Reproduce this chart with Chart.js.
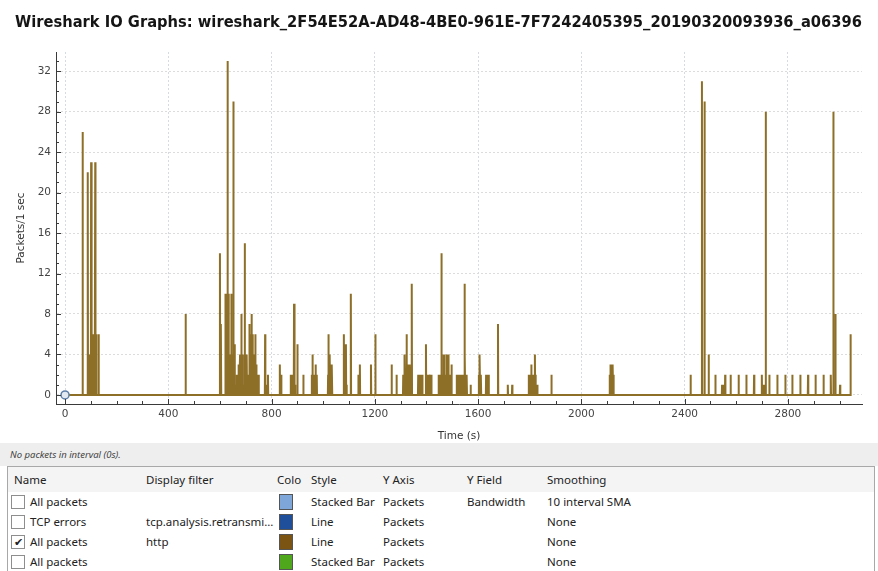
<!DOCTYPE html>
<html>
<head>
<meta charset="utf-8">
<title>Wireshark IO Graphs</title>
<script src="https://cdn.jsdelivr.net/npm/chart.js@4.4.0/dist/chart.umd.min.js"></script>
<style>
body { margin: 0; width: 878px; height: 571px; overflow: hidden; background: #fff; position: relative; font-family: "Noto Sans", sans-serif; }
#plot { position: absolute; left: 0; top: 0; }
#status { position: absolute; left: 0; top: 443px; width: 878px; height: 23px; background: #eeeeee; color: #444; font: italic 9.5px "Noto Sans", sans-serif; line-height: 23px; padding-left: 10px; box-sizing: border-box; }
#graphs { position: absolute; left: 7px; top: 466px; width: 868px; height: 120px; border: 1px solid #a8a8a8; box-sizing: border-box; background: #fff; overflow: hidden; }
.row { position: relative; height: 20px; font-size: 11.5px; color: #222; }
.row.head { height: 25px; background: #f4f4f4; }
.cell { position: absolute; top: 0; white-space: nowrap; line-height: 20px; }
.head .cell { line-height: 25px; }
.chk { position: absolute; left: 3px; top: 3px; width: 12px; height: 12px; border: 1px solid #8e8e8e; background: #fff; font-size: 11px; line-height: 12px; text-align: center; color: #222; }
.sw { position: absolute; left: 271px; top: 2px; width: 12px; height: 14px; border: 1px solid #555; }
</style>
</head>
<body>
<canvas id="plot" width="878" height="443"></canvas>
<div id="status">No packets in interval (0s).</div>
<div id="graphs"></div>
<script>
// Spikes of the "http" graph: time (s) and packets per 1 sec
var spikeTimes = [68, 88, 91, 94, 101, 104, 107, 110, 113, 117, 121, 130, 467,
    600, 604, 621, 625, 629, 632, 636, 640, 644, 648, 652, 657, 661, 665, 669, 673, 678,
    683, 688, 692, 696, 700, 704, 709, 714, 718, 722, 725, 729, 733, 737, 741, 745, 750,
    775, 781, 786, 832, 837, 874, 878, 882, 887, 891, 900, 923,
    956, 959, 962, 965, 968, 971, 975, 1019, 1021, 1024, 1026, 1029, 1031, 1034,
    1080, 1083, 1088, 1091, 1107, 1136, 1142, 1185, 1202, 1265, 1284,
    1310, 1313, 1316, 1319, 1323, 1326, 1330, 1333, 1336, 1343,
    1368, 1372, 1376, 1380, 1384, 1398, 1405, 1409, 1414, 1419,
    1447, 1451, 1455, 1458, 1462, 1466, 1469, 1473, 1478, 1481, 1485, 1489, 1493, 1497,
    1517, 1521, 1525, 1529, 1533, 1537, 1541, 1544, 1547, 1549, 1553, 1556, 1571,
    1603, 1605, 1607, 1611, 1631, 1636, 1641, 1677, 1715, 1732,
    1796, 1800, 1803, 1806, 1810, 1813, 1820, 1823, 1829, 1884,
    2110, 2113, 2116, 2119, 2122, 2125,
    2423, 2467, 2477, 2493, 2519, 2545, 2549, 2557, 2578, 2609, 2639, 2669, 2699, 2707, 2714,
    2728, 2759, 2790, 2817, 2848, 2878, 2907, 2938, 2966, 2976, 2984, 3002, 3043];
var spikeValues = [26, 22, 4, 4, 23, 6, 6, 1, 6, 23, 6, 6, 8,
    14, 7, 10, 10, 33, 10, 4, 4, 10, 4, 29, 5, 1, 2, 1, 3, 4,
    8, 4, 1, 15, 4, 4, 2, 7, 6, 8, 6, 4, 2, 6, 3, 2, 2,
    6, 1, 2, 3, 2, 2, 2, 2, 9, 1, 5, 2,
    2, 4, 2, 2, 2, 3, 2, 2, 6, 2, 4, 2, 2, 3,
    6, 2, 5, 1, 10, 2, 3, 3, 6, 3, 2,
    2, 2, 4, 2, 6, 2, 3, 2, 3, 11,
    2, 2, 1, 2, 2, 5, 2, 2, 2, 2,
    2, 2, 2, 14, 2, 4, 4, 2, 4, 2, 4, 2, 2, 3,
    2, 2, 2, 2, 2, 2, 2, 2, 11, 4, 2, 2, 1,
    2, 3, 4, 2, 2, 2, 2, 7, 1, 1,
    2, 2, 2, 3, 2, 2, 4, 2, 1, 2,
    2, 3, 3, 2, 3, 2,
    2, 31, 29, 4, 2, 1, 1, 2, 2, 2, 2, 2, 2, 1, 28,
    2, 2, 2, 2, 2, 2, 2, 2, 2, 28, 8, 1, 6];

// Tracer marker at the start of the graph
var tracerX = [0];
var tracerY = [0];

// Axis ranges and tick steps
var xMin = -35, xMax = 3087, xMinorStep = 100, xMajorStep = 400;
var yMin = -0.9, yMax = 33.9, yMinorStep = 1, yMajorStep = 4;

var chartTitle = "Wireshark IO Graphs: wireshark_2F54E52A-AD48-4BE0-961E-7F7242405395_20190320093936_a06396";

// Graph table rows
var graphNames = ["All packets", "TCP errors", "All packets", "All packets"];
var graphEnabled = [false, false, true, false];
var graphFilters = ["", "tcp.analysis.retransmi...", "http", ""];
var graphColors = ["#7ea6d8", "#1f4f9b", "#7b5312", "#4fa71c"];
var graphStyles = ["Stacked Bar", "Line", "Line", "Stacked Bar"];
var graphYAxis = ["Packets", "Packets", "Packets", "Packets"];
var graphYField = ["Bandwidth", "", "", ""];
var graphSmoothing = ["10 interval SMA", "None", "None", "None"];


function buildSeries()
{
    // Each 1 s interval goes up to its value and back to zero
    var pts = [{x: 0, y: 0}];
    for (var i = 0; i < spikeTimes.length; ++i)
    {
        pts.push({x: spikeTimes[i] - 1, y: 0});
        pts.push({x: spikeTimes[i], y: spikeValues[i]});
        if (i < spikeTimes.length - 1)
            pts.push({x: spikeTimes[i] + 1, y: 0});
    }
    return pts;
}


function stepTicks(from, to, step)
{
    var t = [];
    for (var v = from; v <= to; v += step)
        t.push({value: v});
    return t;
}


// Wireshark draws its tick marks on the inside of the axes
var innerTicks = {
    id: "innerTicks",
    afterDatasetsDraw: function(chart)
    {
        var c = chart.ctx;
        var a = chart.chartArea;
        var xs = chart.scales.x, ys = chart.scales.y;
        c.save();
        c.strokeStyle = "#3a3a3a";
        c.lineWidth = 1;
        c.beginPath();
        xs.ticks.forEach(function(t){
            var px = Math.round(xs.getPixelForValue(t.value)) + 0.5;
            var len = (t.value % xMajorStep === 0) ? 5 : 3;
            c.moveTo(px, a.bottom);
            c.lineTo(px, a.bottom - len);
        });
        ys.ticks.forEach(function(t){
            var py = Math.round(ys.getPixelForValue(t.value)) + 0.5;
            var len = (t.value % yMajorStep === 0) ? 5 : 3;
            c.moveTo(a.left, py);
            c.lineTo(a.left + len, py);
        });
        c.stroke();
        c.restore();
    }
};


function drawGraph()
{
    var ctx = document.getElementById("plot").getContext("2d");
    var tickFont = {family: "DejaVu Sans", size: 10.5};

    var tracer = [];
    for (var i = 0; i < tracerX.length; ++i)
        tracer.push({x: tracerX[i], y: tracerY[i]});

    return new Chart(ctx, {
        type: "line",
        data: {
            datasets: [
                {
                    data: tracer,
                    showLine: false,
                    pointRadius: 4,
                    pointBackgroundColor: "#e3e9f1",
                    pointBorderColor: "#5d7ea8",
                    pointBorderWidth: 1.5,
                    order: 1
                },
                {
                    data: buildSeries(),
                    borderColor: "#8e6f28",
                    borderWidth: 2,
                    pointRadius: 0,
                    tension: 0,
                    fill: false,
                    order: 2
                }
            ]
        },
        options: {
            responsive: false,
            animation: false,
            devicePixelRatio: 1,
            layout: {padding: {left: 15, right: 16, top: 0, bottom: 0}},
            plugins: {
                legend: {display: false},
                tooltip: {enabled: false},
                title: {
                    display: true,
                    text: chartTitle,
                    align: "start",
                    color: "#151515",
                    font: {family: "DejaVu Sans", size: 15, weight: "bold"},
                    padding: {top: 14, bottom: 20}
                }
            },
            scales: {
                x: {
                    type: "linear",
                    min: xMin,
                    max: xMax,
                    afterBuildTicks: function(s){ s.ticks = stepTicks(0, 3000, xMinorStep); },
                    afterFit: function(s){ s.height = 39; },
                    ticks: {
                        autoSkip: false,
                        maxRotation: 0,
                        padding: 4,
                        color: "#444",
                        font: tickFont,
                        callback: function(v){ return v % xMajorStep === 0 ? v : ""; }
                    },
                    grid: {
                        drawTicks: false,
                        color: function(c){ return (c.tick && c.tick.value % xMajorStep === 0) ? "#d6dbe3" : "rgba(0,0,0,0)"; }
                    },
                    border: {color: "#3a3a3a", width: 1, dash: [2, 2]},
                    title: {
                        display: true,
                        text: "Time (s)",
                        color: "#333",
                        font: tickFont,
                        padding: {top: 6, bottom: 0}
                    }
                },
                y: {
                    type: "linear",
                    min: yMin,
                    max: yMax,
                    afterBuildTicks: function(s){ s.ticks = stepTicks(0, 33, yMinorStep); },
                    afterFit: function(s){ s.width = 41; },
                    ticks: {
                        autoSkip: false,
                        padding: 5,
                        color: "#444",
                        font: tickFont,
                        callback: function(v){ return v % yMajorStep === 0 ? v : ""; }
                    },
                    grid: {
                        drawTicks: false,
                        color: function(c){ return (c.tick && c.tick.value % yMajorStep === 0) ? "#dcdcdc" : "rgba(0,0,0,0)"; }
                    },
                    border: {color: "#3a3a3a", width: 1, dash: [2, 2]},
                    title: {
                        display: true,
                        text: "Packets/1 sec",
                        color: "#333",
                        font: tickFont,
                        padding: {top: 0, bottom: 0}
                    }
                }
            }
        },
        plugins: [innerTicks]
    });
}


function cell(row, left, text)
{
    var d = document.createElement("div");
    d.className = "cell";
    d.style.left = left + "px";
    d.textContent = text;
    row.appendChild(d);
}


function buildTable()
{
    var box = document.getElementById("graphs");
    var cols = [6, 138, 269, 303, 375, 459, 539];

    var head = document.createElement("div");
    head.className = "row head";
    var titles = ["Name", "Display filter", "Colo", "Style", "Y Axis", "Y Field", "Smoothing"];
    for (var i = 0; i < titles.length; ++i)
        cell(head, cols[i], titles[i]);
    box.appendChild(head);

    for (var r = 0; r < graphNames.length; ++r)
    {
        var row = document.createElement("div");
        row.className = "row";
        var chk = document.createElement("div");
        chk.className = "chk";
        chk.textContent = graphEnabled[r] ? "\u2714" : "";
        row.appendChild(chk);
        cell(row, 22, graphNames[r]);
        cell(row, cols[1], graphFilters[r]);
        var sw = document.createElement("div");
        sw.className = "sw";
        sw.style.background = graphColors[r];
        row.appendChild(sw);
        cell(row, cols[3], graphStyles[r]);
        cell(row, cols[4], graphYAxis[r]);
        cell(row, cols[5], graphYField[r]);
        cell(row, cols[6], graphSmoothing[r]);
        box.appendChild(row);
    }
}


buildTable();
drawGraph();
</script>
</body>
</html>
